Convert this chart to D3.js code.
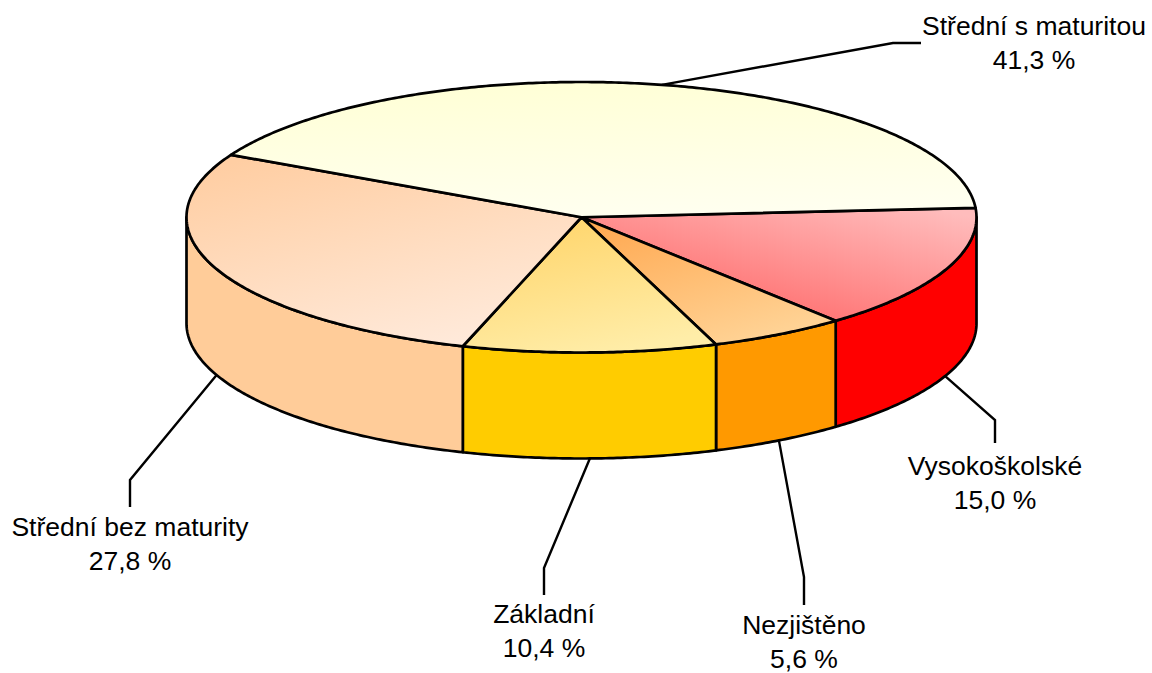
<!DOCTYPE html>
<html><head><meta charset="utf-8">
<script src="https://cdnjs.cloudflare.com/ajax/libs/d3/7.8.5/d3.min.js"></script>
<style>html,body{margin:0;padding:0;background:#fff}svg{display:block}</style>
</head><body><svg id="c" width="1152" height="673"></svg>
<script>
const categories = ["Vysokoškolské","Nezjištěno","Základní","Střední bez maturity","Střední s maturitou"];
const values = [15.0,5.6,10.4,27.8,41.3];
const valueLabels = ["15,0 %","5,6 %","10,4 %","27,8 %","41,3 %"];
const sideColors = ["#ff0000","#ff9900","#ffcc00","#ffcc99","#ffffcc"];
const topFrom = ["#ff6b6b","#ffa64d","#ffd469","#ffcea3","#ffffd6"];
const topTo = ["#ffbcbc","#ffd294","#ffeda8","#ffeadb","#fffff0"];
// gradient direction per slice (x1,y1,x2,y2 in bounding box)
const gradDir = [[0.25,0.9,0.95,0.05],[0,0,0.6,1],[0.2,0,0.6,1],[0.2,0,0.7,1],[0.4,0,0.6,1]];
// leader elbow, leader end, label centre
const leaderLayout = [
 {ex:995,ey:420,fx:995,fy:443,lx:995,ly:475},
 {ex:804,ey:577,fx:804,fy:605,lx:804,ly:634},
 {ex:544,ey:568,fx:544,fy:595,lx:544,ly:623},
 {ex:130,ey:480,fx:130,fy:507,lx:130,ly:536},
 {ex:893,ey:43,fx:921,fy:43,lx:1034,ly:35}
];
const startDeg = -4.0, depth = 106;
const x = d3.scaleLinear().domain([-1,1]).range([186.5,976.5]);
const y = d3.scaleLinear().domain([-1,1]).range([82,352.5]);
const rad = d3.scaleLinear().domain([0,360]).range([0,2*Math.PI]);
const pie = d3.pie().sort(null).startAngle(rad(startDeg)).endAngle(rad(startDeg+360));
const arcs = pie(values);
const line = d3.line();
const px = t=>[x(Math.cos(t)), y(Math.sin(t))];
const sample = (a,b)=>{const n=Math.max(2,Math.ceil((b-a)/0.01));return d3.range(n+1).map(i=>a+(b-a)*i/n);};
const svg = d3.select("#c");
const defs = svg.append("defs");
values.forEach((v,i)=>{
  const g = defs.append("linearGradient").attr("id","g"+i)
   .attr("x1",gradDir[i][0]).attr("y1",gradDir[i][1]).attr("x2",gradDir[i][2]).attr("y2",gradDir[i][3]);
  g.append("stop").attr("offset",0).attr("stop-color",topFrom[i]);
  g.append("stop").attr("offset",1).attr("stop-color",topTo[i]);
});
// leaders
const mids = arcs.map(a=>(a.startAngle+a.endAngle)/2);
svg.append("g").selectAll("path").data(arcs).join("path")
 .attr("fill","none").attr("stroke","#000").attr("stroke-width",2.4)
 .attr("d",(a,i)=>{
   const m=mids[i],p=px(m),L=leaderLayout[i];
   const yy=p[1]+(Math.sin(m)>0?depth:0);
   return line([[p[0],yy],[L.ex,L.ey],[L.fx,L.fy]]);
 });
// side walls
svg.append("g").selectAll("path").data(arcs.map((a,i)=>({a,i})).filter(d=>{
   const s=d.a.startAngle,e=d.a.endAngle;return s<Math.PI && e>0;})).join("path")
 .attr("fill",d=>sideColors[d.i]).attr("stroke","#000").attr("stroke-width",2.7).attr("stroke-linejoin","round")
 .attr("d",d=>{
   const s=Math.max(0,d.a.startAngle),e=Math.min(Math.PI,d.a.endAngle);
   const upper=sample(s,e).map(px);
   const lower=upper.slice().reverse().map(p=>[p[0],p[1]+depth]);
   return line(upper.concat(lower))+"Z";
 });
// top faces
svg.append("g").selectAll("path").data(arcs).join("path")
 .attr("fill",(a,i)=>`url(#g${i})`).attr("stroke","#000").attr("stroke-width",2.7).attr("stroke-linejoin","round")
 .attr("d",a=>line([[x(0),y(0)]].concat(sample(a.startAngle,a.endAngle).map(px)))+"Z");
// labels
const t = svg.append("g").attr("font-family","'Liberation Sans',Arial,sans-serif").attr("font-size",26.5).attr("fill","#000").attr("text-anchor","middle");
categories.forEach((c,i)=>{
  const L=leaderLayout[i];
  t.append("text").attr("x",L.lx).attr("y",L.ly).text(c);
  t.append("text").attr("x",L.lx).attr("y",L.ly+33.5).text(valueLabels[i]);
});
</script></body></html>
